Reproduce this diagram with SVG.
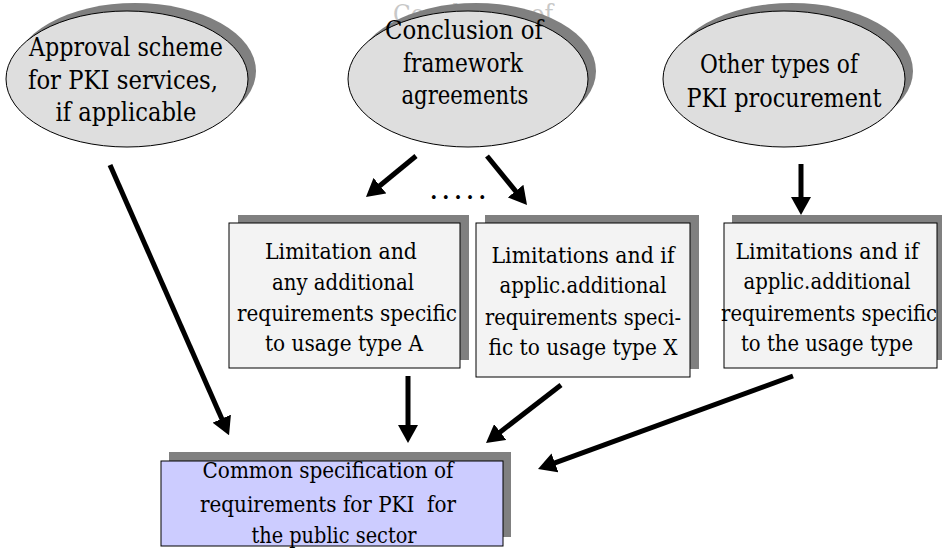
<svg xmlns="http://www.w3.org/2000/svg" width="942" height="550" viewBox="0 0 942 550">
<style>
.sh{fill:#808080;stroke:none}
.el{fill:#dedede;stroke:#000;stroke-width:1}
.bx{fill:#f3f3f3;stroke:#000;stroke-width:1}
.bl{fill:#ccccff;stroke:#000;stroke-width:1}
.tx{fill:#000;text-anchor:middle;font-family:"DejaVu Serif","Liberation Serif",serif}
.t28{font-size:25.5px}
.t25{font-size:23px}
.ghost{fill:#c8c8c8}
.cn{stroke:#000;stroke-width:5;fill:none;marker-end:url(#ah)}
</style>
<defs>
<marker id="ah" viewBox="0 0 18 20" refX="8" refY="10" markerWidth="18" markerHeight="20" markerUnits="userSpaceOnUse" orient="auto">
<path d="M0,0 L18,10 L0,20 Z" fill="#000"/>
</marker>
</defs>
<rect width="942" height="550" fill="#fff"/>
<g id="approval">
<ellipse class="sh" cx="135" cy="71" rx="121" ry="68"/>
<ellipse class="el" cx="127" cy="79" rx="121" ry="68"/>
<text class="tx t28" x="126" y="56" textLength="194" lengthAdjust="spacingAndGlyphs">Approval scheme</text>
<text class="tx t28" x="123" y="89" textLength="190" lengthAdjust="spacingAndGlyphs">for PKI services,</text>
<text class="tx t28" x="126" y="121" textLength="141" lengthAdjust="spacingAndGlyphs">if applicable</text>
</g>
<g id="framework">
<text class="tx t28 ghost" x="473" y="23" textLength="160" lengthAdjust="spacingAndGlyphs">Conclusion of</text>
<ellipse class="sh" cx="476" cy="71" rx="120" ry="68"/>
<ellipse class="el" cx="468" cy="79" rx="120" ry="68"/>
<text class="tx t28" x="464" y="39" textLength="158" lengthAdjust="spacingAndGlyphs">Conclusion of</text>
<text class="tx t28" x="463" y="72" textLength="120" lengthAdjust="spacingAndGlyphs">framework</text>
<text class="tx t28" x="465" y="104" textLength="127" lengthAdjust="spacingAndGlyphs">agreements</text>
</g>
<g id="other">
<ellipse class="sh" cx="792" cy="71" rx="121" ry="68"/>
<ellipse class="el" cx="784" cy="79" rx="121" ry="68"/>
<text class="tx t28" x="779" y="73" textLength="158" lengthAdjust="spacingAndGlyphs">Other types of</text>
<text class="tx t28" x="784" y="107" textLength="195" lengthAdjust="spacingAndGlyphs">PKI procurement</text>
</g>
<g id="usageA">
<rect class="sh" x="238" y="215" width="231" height="145"/>
<rect class="bx" x="229" y="223" width="231" height="145"/>
<text class="tx t25" x="341" y="259" textLength="152" lengthAdjust="spacingAndGlyphs">Limitation and</text>
<text class="tx t25" x="343" y="290" textLength="142" lengthAdjust="spacingAndGlyphs">any additional</text>
<text class="tx t25" x="347" y="321" textLength="220" lengthAdjust="spacingAndGlyphs">requirements specific</text>
<text class="tx t25" x="344" y="351" textLength="158" lengthAdjust="spacingAndGlyphs">to usage type A</text>
</g>
<text id="dots" class="tx" x="458" y="199" font-size="30" textLength="58" lengthAdjust="spacing">.....</text>
<g id="usageX">
<rect class="sh" x="485" y="215" width="214" height="154"/>
<rect class="bx" x="476" y="223" width="214" height="154"/>
<text class="tx t25" x="583" y="263" textLength="183" lengthAdjust="spacingAndGlyphs">Limitations and if</text>
<text class="tx t25" x="583" y="293" textLength="167" lengthAdjust="spacingAndGlyphs">applic.additional</text>
<text class="tx t25" x="583" y="325" textLength="196" lengthAdjust="spacingAndGlyphs">requirements speci-</text>
<text class="tx t25" x="583" y="355" textLength="189" lengthAdjust="spacingAndGlyphs">fic to usage type X</text>
</g>
<g id="usageOther">
<rect class="sh" x="732" y="215" width="213" height="145"/>
<rect class="bx" x="724" y="223" width="213" height="145"/>
<text class="tx t25" x="827" y="259" textLength="183" lengthAdjust="spacingAndGlyphs">Limitations and if</text>
<text class="tx t25" x="827" y="289" textLength="167" lengthAdjust="spacingAndGlyphs">applic.additional</text>
<text class="tx t25" x="829" y="321" textLength="216" lengthAdjust="spacingAndGlyphs">requirements specific</text>
<text class="tx t25" x="827" y="351" textLength="172" lengthAdjust="spacingAndGlyphs">to the usage type</text>
</g>
<g id="common">
<rect class="sh" x="169" y="452" width="342" height="85"/>
<rect class="bl" x="161" y="461" width="342" height="85"/>
<text class="tx t25" x="328" y="478" textLength="251" lengthAdjust="spacingAndGlyphs">Common specification of</text>
<text class="tx t25" x="328" y="512" textLength="256" lengthAdjust="spacingAndGlyphs" xml:space="preserve">requirements for PKI  for</text>
<text class="tx t25" x="334" y="543" textLength="165" lengthAdjust="spacingAndGlyphs">the public sector</text>
</g>
<g id="connectors">
<line class="cn" x1="110" y1="165" x2="225" y2="426"/>
<line class="cn" x1="416" y1="156" x2="373.7" y2="190.7"/>
<line class="cn" x1="487" y1="156" x2="520.7" y2="197.3"/>
<line class="cn" x1="801" y1="164" x2="801" y2="205"/>
<line class="cn" x1="408" y1="376" x2="408" y2="433"/>
<line class="cn" x1="561" y1="385" x2="493.9" y2="436.9"/>
<line class="cn" x1="793" y1="376" x2="547.4" y2="465.6"/>
</g>
</svg>
